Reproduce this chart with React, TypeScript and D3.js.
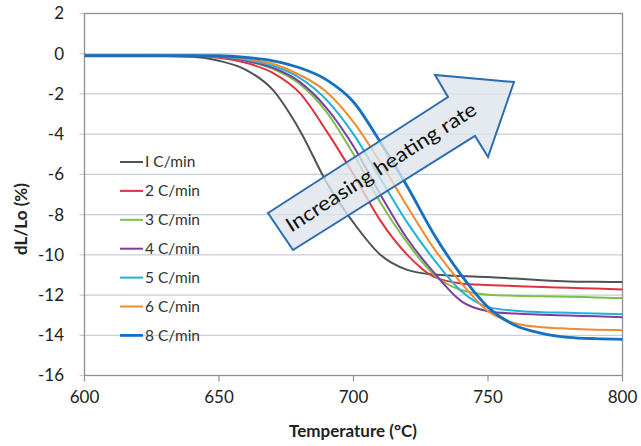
import React from "react";
import * as d3 from "d3";

const temps = [600, 620, 640, 650, 660, 670, 680, 690, 700, 710, 720, 730, 740, 750, 760, 770, 780, 790, 800];

const rate1 = [-0.1, -0.1, -0.15, -0.35, -0.8, -1.8, -3.8, -6.4, -8.4, -10.0, -10.75, -10.98, -11.05, -11.1, -11.18, -11.26, -11.32, -11.34, -11.35];
const rate2 = [-0.1, -0.1, -0.1, -0.2, -0.45, -0.95, -1.95, -3.85, -6.0, -8.3, -10.0, -11.1, -11.42, -11.5, -11.55, -11.6, -11.64, -11.68, -11.72];
const rate3 = [-0.1, -0.1, -0.1, -0.15, -0.35, -0.75, -1.5, -2.9, -5.0, -7.4, -9.4, -11.0, -11.75, -11.98, -12.03, -12.06, -12.08, -12.12, -12.15];
const rate4 = [-0.1, -0.1, -0.1, -0.15, -0.35, -0.7, -1.4, -2.7, -4.6, -7.0, -9.2, -10.9, -12.3, -12.8, -12.92, -12.98, -13.02, -13.06, -13.1];
const rate5 = [-0.1, -0.1, -0.1, -0.12, -0.3, -0.6, -1.2, -2.3, -4.0, -6.2, -8.4, -10.25, -11.8, -12.6, -12.78, -12.85, -12.88, -12.92, -12.95];
const rate6 = [-0.1, -0.1, -0.1, -0.1, -0.25, -0.5, -1.05, -1.9, -3.4, -5.4, -7.6, -9.7, -11.4, -12.8, -13.4, -13.6, -13.67, -13.72, -13.75];
const rate8 = [-0.1, -0.1, -0.1, -0.1, -0.18, -0.35, -0.7, -1.3, -2.4, -4.4, -6.6, -9.0, -11.0, -12.6, -13.5, -13.9, -14.1, -14.17, -14.2];

const seriesNames = ["I C/min", "2 C/min", "3 C/min", "4 C/min", "5 C/min", "6 C/min", "8 C/min"];
const seriesValues = [rate1, rate2, rate3, rate4, rate5, rate6, rate8];
const seriesColors = ["#4d5358", "#e0323e", "#7cc04a", "#7b3fa0", "#22b2d8", "#f28a2e", "#1470c4"];
const seriesWidths = [2, 2, 2, 2, 2, 2, 2.8];

const xTicks = [600, 650, 700, 750, 800];
const yTicks = [2, 0, -2, -4, -6, -8, -10, -12, -14, -16];

const FONT = "Lato, 'Open Sans', sans-serif";

export default function App() {
  const W = 641, H = 446;
  const left = 84.5, right = 622.5, top = 13.5, bottom = 375.5;
  const x = d3.scaleLinear().domain([600, 800]).range([left, right]);
  const y = d3.scaleLinear().domain([-16, 2]).range([bottom, top]);
  const line = d3
    .line<[number, number]>()
    .x((d) => x(d[0]))
    .y((d) => y(d[1]))
    .curve(d3.curveMonotoneX);

  // arrow geometry (pixel polygon of annotation)
  const arrowPts: [number, number][] = [
    [268, 213], [448, 97], [435, 75], [514, 82], [488, 157], [475, 136], [293, 250],
  ];
  const ang = (Math.atan2(82 - 231.5, 514 - 280.5) * 180) / Math.PI;

  return (
    <svg width={W} height={H} style={{ position: "absolute", left: 0, top: 0, background: "#fff" }}>
      <rect x={0} y={0} width={W} height={H} fill="#fff" />
      {yTicks.map((t) => (
        <line key={"g" + t} x1={left - 5} x2={right} y1={y(t)} y2={y(t)} stroke="#c9ced4" strokeWidth={1.2} />
      ))}
      {xTicks.map((t) => (
        <line key={"xt" + t} x1={x(t)} x2={x(t)} y1={bottom} y2={bottom + 6} stroke="#8c9096" strokeWidth={1.2} />
      ))}
      <rect x={left} y={top} width={right - left} height={bottom - top} fill="none" stroke="#8c9096" strokeWidth={1.3} />
      {seriesValues.map((vals, i) => (
        <path
          key={"s" + i}
          d={line(temps.map((t, j) => [t, vals[j]] as [number, number])) || ""}
          fill="none"
          stroke={seriesColors[i]}
          strokeWidth={seriesWidths[i]}
        />
      ))}
      {yTicks.map((t) => (
        <text key={"yl" + t} x={64} y={y(t)} dy="0.35em" textAnchor="end" fontFamily={FONT} fontSize={17} fill="#222">
          {t}
        </text>
      ))}
      {xTicks.map((t) => (
        <text key={"xl" + t} x={x(t)} y={403} textAnchor="middle" fontFamily={FONT} fontSize={17} fill="#222">
          {t}
        </text>
      ))}
      <text x={353} y={437} textAnchor="middle" fontFamily={FONT} fontSize={17} fontWeight="bold" fill="#222">
        Temperature (°C)
      </text>
      <text
        transform={`translate(27,219) rotate(-90)`}
        textAnchor="middle"
        fontFamily={FONT}
        fontSize={17}
        fontWeight="bold"
        fill="#222"
      >
        dL/Lo (%)
      </text>
      {seriesNames.map((n, i) => {
        const ly = 162 + i * 28.9;
        return (
          <g key={"lg" + i}>
            <line x1={120} x2={143} y1={ly} y2={ly} stroke={seriesColors[i]} strokeWidth={seriesWidths[i]} />
            <text x={145} y={ly} dy="0.35em" fontFamily={FONT} fontSize={15.5} fill="#333">
              {n}
            </text>
          </g>
        );
      })}
      <polygon
        points={arrowPts.map((p) => p.join(",")).join(" ")}
        fill="#dde4eb"
        fillOpacity={0.78}
        stroke="#2b6cb0"
        strokeWidth={2}
        strokeLinejoin="miter"
      />
      <text
        transform={`translate(381,167) rotate(${ang})`}
        textAnchor="middle"
        dy="0.35em"
        fontFamily={FONT}
        fontSize={20}
        fill="#111"
        textLength={222}
        lengthAdjust="spacingAndGlyphs"
      >
        Increasing heating rate
      </text>
    </svg>
  );
}
